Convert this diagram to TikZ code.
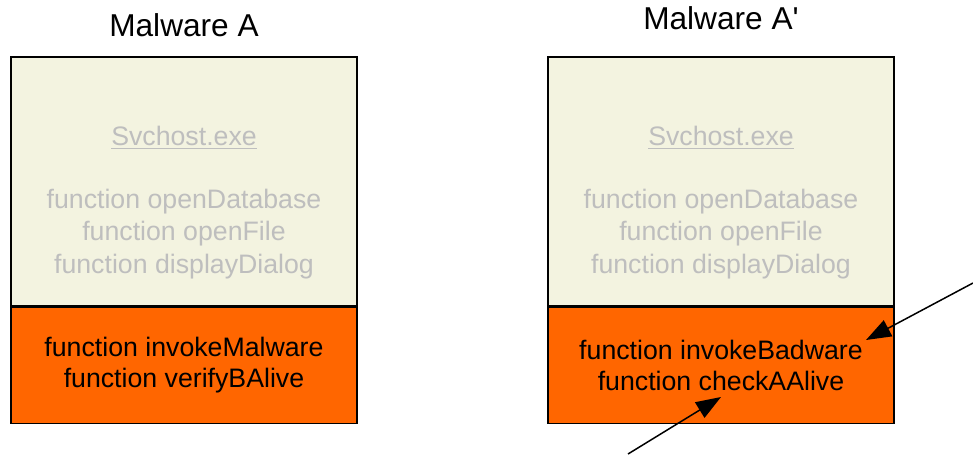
\documentclass[tikz,border=0pt]{standalone}
\usepackage{fontspec}
\setmainfont{Liberation Sans}
\usetikzlibrary{arrows.meta}
\definecolor{paleboxfill}{HTML}{F3F3E0}
\definecolor{hotorange}{HTML}{FF6600}
\definecolor{fadedtext}{HTML}{BEBEBE}
\tikzset{
  upperbox/.style={draw=black,line width=0.9pt,fill=paleboxfill,minimum width=6.92cm,minimum height=4.98cm,inner sep=0pt,anchor=north},
  lowerbox/.style={draw=black,line width=0.9pt,fill=hotorange,minimum width=6.92cm,minimum height=2.32cm,inner sep=0pt,anchor=north},
  titletxt/.style={font=\fontsize{18}{21}\selectfont},
  greytxt/.style={text=fadedtext,align=center,font=\fontsize{15.2}{18.5}\selectfont},
  blacktxt/.style={text=black,align=center,font=\fontsize{15.2}{17.6}\selectfont},
  pointer/.style={line width=0.85pt,-{Triangle[length=0.5cm,width=0.36cm]}}
}
\begin{document}
\begin{tikzpicture}[x=0.02cm,y=-0.02cm]
\useasboundingbox (0,0) rectangle (973,454);
% Malware A
\node[titletxt] (titleA) at (184,25) {Malware A};
\node[upperbox] (upA) at (184,56) {};
\node[lowerbox] (lowA) at (upA.south) {};
\node[greytxt] (exeA) at (184,138) {\underline{Svchost.exe}};
\node[greytxt] (funcsA) at (184,234) {function openDatabase\\function openFile\\function displayDialog};
\node[blacktxt] (evilA) at (184,365) {function invokeMalware\\function verifyBAlive};
% Malware A'
\node[titletxt] (titleB) at (721,18) {Malware A\textquotesingle};
\node[upperbox] (upB) at (721,56) {};
\node[lowerbox] (lowB) at (upB.south) {};
\node[greytxt] (exeB) at (721,138) {\underline{Svchost.exe}};
\node[greytxt] (funcsB) at (721,234) {function openDatabase\\function openFile\\function displayDialog};
\node[blacktxt] (evilB) at (721,365) {function invokeBadware\\function checkAAlive};
% pointers
\coordinate (fromTop) at (973,283);
\coordinate (atInvoke) at (866,340);
\coordinate (fromBottom) at (628,454);
\coordinate (atCheck) at (721,397);
\draw[pointer] (fromTop) -- (atInvoke);
\draw[pointer] (fromBottom) -- (atCheck);
\end{tikzpicture}
\end{document}
